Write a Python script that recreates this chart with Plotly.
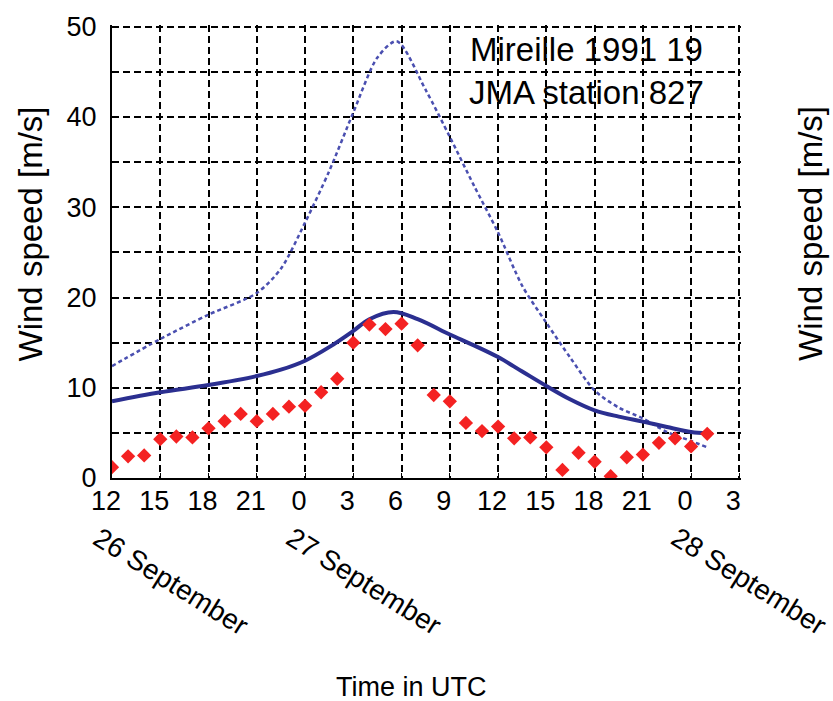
import plotly.graph_objects as go

# hours since 12 UTC 26 September
obs_hours = list(range(0, 38))
obs_speed = [1.2, 2.4, 2.5, 4.3, 4.6, 4.5, 5.5, 6.3, 7.1, 6.3, 7.1, 7.9, 8.0, 9.5,
             11.0, 15.0, 17.0, 16.5, 17.1, 14.7, 9.2, 8.5, 6.1, 5.2, 5.7, 4.4, 4.5,
             3.4, 0.9, 2.8, 1.8, 0.2, 2.3, 2.6, 3.9, 4.4, 3.5, 4.9]

model_hours = [0, 3, 6, 9, 10.5, 12, 13.5, 15, 16, 17.5, 19, 21, 22.5, 24, 25.5, 27,
               28.5, 30, 31.5, 33, 34.5, 36, 37]
model_speed = [8.5, 9.5, 10.3, 11.3, 12.0, 13.0, 14.5, 16.3, 17.6, 18.4, 17.6, 15.9,
               14.7, 13.4, 11.8, 10.2, 8.7, 7.5, 6.8, 6.25, 5.65, 5.1, 4.95]

grad_hours = [0, 3, 6, 9, 10.5, 12, 13.5, 15, 16.5, 17.7, 19.5, 21, 22.5, 24, 25.5, 27,
              28.5, 30, 31.5, 33, 34.5, 36, 37]
grad_speed = [12.4, 15.4, 18.1, 20.5, 23.2, 28.3, 34.0, 40.5, 46.6, 48.4, 43.0, 37.8,
              32.4, 27.2, 21.3, 17.2, 13.3, 9.7, 7.8, 6.6, 5.1, 4.1, 3.4]

x_tickvals = list(range(0, 40, 3))
x_ticktext = ["12", "15", "18", "21", "0", "3", "6", "9", "12", "15", "18", "21", "0", "3"]
y_tickvals = list(range(0, 55, 5))
y_ticktext = [str(v) if v % 10 == 0 else "" for v in y_tickvals]

date_labels = ["26 September", "27 September", "28 September"]

title_lines = ["Mireille 1991 19", "JMA station 827"]
y_title = "Wind speed [m/s]"
x_title = "Time in UTC"

FONT = "Liberation Sans, Arial, sans-serif"

fig = go.Figure()
fig.add_trace(go.Scatter(x=grad_hours, y=grad_speed, mode="lines",
                         line=dict(color="#4a4fb0", width=2.5, dash="4px,3px", shape="spline", smoothing=0.8),
                         showlegend=False, hoverinfo="skip"))
fig.add_trace(go.Scatter(x=model_hours, y=model_speed, mode="lines",
                         line=dict(color="#2b2f90", width=4, shape="spline", smoothing=1.0),
                         showlegend=False))
fig.add_trace(go.Scatter(x=obs_hours, y=obs_speed, mode="markers",
                         marker=dict(symbol="diamond", size=11, color="#f42222", line=dict(width=0)),
                         showlegend=False))

grid_common = dict(showgrid=True, gridcolor="black", gridwidth=1.5, griddash="7px,4px",
                   zeroline=False, showline=True, linecolor="black", linewidth=2,
                   ticks="inside", ticklen=5, tickcolor="black",
                   tickfont=dict(family=FONT, size=27, color="black"))

# ranges slightly beyond last grid line so that the edge grid lines are drawn
fig.update_xaxes(range=[0, 39.1], tickvals=x_tickvals, ticktext=x_ticktext,
                 ticklabelshift=-6, ticklabelstandoff=-2, **grid_common)
fig.update_yaxes(range=[0, 50.2], tickvals=y_tickvals, ticktext=y_ticktext,
                 ticklabelstandoff=8, **grid_common)

annotations = []
annotations.append(dict(x=0.755, y=0.945, xref="paper", yref="paper", text=title_lines[0],
                        showarrow=False, font=dict(family=FONT, size=33, color="black"),
                        xanchor="center", yanchor="middle"))
annotations.append(dict(x=0.755, y=0.852, xref="paper", yref="paper", text=title_lines[1],
                        showarrow=False, font=dict(family=FONT, size=33, color="black"),
                        xanchor="center", yanchor="middle"))
# date label centres in pixels (converted to paper coords below)
date_px = [(171, 582), (364, 582), (749, 582)]
plot_l, plot_w, plot_b, plot_h = 112, 628.6, 478, 455.8
for lbl, (px, py) in zip(date_labels, date_px):
    annotations.append(dict(x=(px - plot_l) / plot_w, y=(plot_b - py) / plot_h,
                            xref="paper", yref="paper", text=lbl, showarrow=False,
                            textangle=32, font=dict(family=FONT, size=28, color="black"),
                            xanchor="center", yanchor="middle"))
annotations.append(dict(x=(31 - plot_l) / plot_w, y=(plot_b - 232) / plot_h, xref="paper", yref="paper",
                        text=y_title, showarrow=False, textangle=-90,
                        font=dict(family=FONT, size=33, color="black"),
                        xanchor="center", yanchor="middle"))
annotations.append(dict(x=(810 - plot_l) / plot_w, y=(plot_b - 232) / plot_h, xref="paper", yref="paper",
                        text=y_title, showarrow=False, textangle=-90,
                        font=dict(family=FONT, size=33, color="black"),
                        xanchor="center", yanchor="middle"))
annotations.append(dict(x=(411 - plot_l) / plot_w, y=(plot_b - 688) / plot_h, xref="paper", yref="paper",
                        text=x_title, showarrow=False,
                        font=dict(family=FONT, size=27, color="black"),
                        xanchor="center", yanchor="middle"))

fig.update_layout(width=833, height=701, margin=dict(l=112, r=92.4, t=22.2, b=223),
                  plot_bgcolor="white", paper_bgcolor="white", annotations=annotations)

fig.write_html("out.html")
